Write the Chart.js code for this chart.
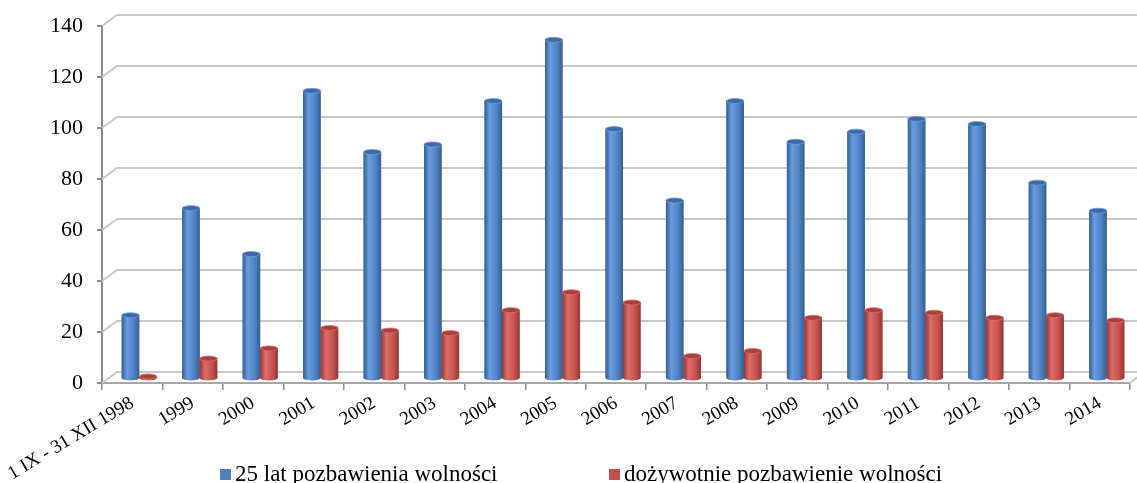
<!DOCTYPE html>
<html>
<head>
<meta charset="utf-8">
<script src="https://cdn.jsdelivr.net/npm/chart.js@4/dist/chart.umd.min.js"></script>
<style>
    html, body { margin: 0; padding: 0; background: #fff; }
</style>
</head>
<body>
<canvas id="chart" width="1137" height="483"></canvas>
<script>
const categories = ['1 IX - 31 XII 1998', '1999', '2000', '2001', '2002', '2003', '2004', '2005', '2006',
    '2007', '2008', '2009', '2010', '2011', '2012', '2013', '2014'];
const years25 = [25, 67, 49, 113, 89, 92, 109, 133, 98, 70, 109, 93, 97, 102, 100, 77, 66];
const lifeSentence = [1, 8, 12, 20, 19, 18, 27, 34, 30, 9, 11, 24, 27, 26, 24, 25, 23];
const seriesLabels = ['25 lat pozbawienia wolności', 'dożywotnie pozbawienie wolności'];
const yMax = 140;
const yStep = 20;

const seriesColors = ['#4f81bd', '#c0504d'];
// dark edge, highlight, mid, top cap
const shades = [
    ['#345f94', '#6b9be0', '#4f82c2', '#3d6aa6'],
    ['#943633', '#de6c68', '#c4524f', '#a9403d'],
];
const FONT = '"Liberation Serif", "DejaVu Serif", serif';
const depth = {dx: 15, dy: 11, barDx: 7, barDy: -4};

const ctx = document.getElementById('chart');

const wallsPlugin = {
    id: 'walls',
    beforeDatasetsDraw(chart) {
        const c = chart.ctx;
        const area = chart.chartArea;
        const y = chart.scales.y;
        c.save();
        c.strokeStyle = '#c8c8c8';
        c.lineWidth = 2;
        for (let v = 0; v <= yMax; v += yStep) {
            const yf = Math.round(y.getPixelForValue(v));
            c.beginPath();
            c.moveTo(area.left, yf);
            c.lineTo(area.left + depth.dx, yf - depth.dy);
            c.lineTo(chart.width, yf - depth.dy);
            c.stroke();
        }
        // right end of the floor
        c.beginPath();
        c.moveTo(area.right, area.bottom);
        c.lineTo(area.right + 8, area.bottom - 6);
        c.stroke();
        c.restore();

        c.save();
        c.translate(depth.barDx, depth.barDy);
    },
    afterDatasetsDraw(chart) {
        const c = chart.ctx;
        chart.data.datasets.forEach((ds, i) => {
            const meta = chart.getDatasetMeta(i);
            const sh = shades[i];
            meta.data.forEach((bar) => {
                const w = bar.width;
                const left = bar.x - w / 2;
                const top = bar.y;
                const base = bar.base;
                const g = c.createLinearGradient(left, 0, left + w, 0);
                g.addColorStop(0, sh[0]);
                g.addColorStop(0.3, sh[1]);
                g.addColorStop(0.7, sh[2]);
                g.addColorStop(1, sh[0]);
                c.fillStyle = g;
                c.fillRect(left, top, w, base - top);
                c.beginPath();
                c.ellipse(bar.x, base, w / 2, 2.5, 0, 0, Math.PI * 2);
                c.fill();
                c.beginPath();
                c.ellipse(bar.x, top, w / 2, 2.5, 0, 0, Math.PI * 2);
                c.fillStyle = sh[3];
                c.fill();
                c.strokeStyle = sh[1];
                c.lineWidth = 0.8;
                c.stroke();
            });
        });
        c.restore();
    },
    afterDraw(chart) {
        const c = chart.ctx;
        const pos = [220, 609];
        c.save();
        c.font = '23px ' + FONT;
        c.textBaseline = 'middle';
        chart.data.datasets.forEach((ds, i) => {
            c.fillStyle = seriesColors[i];
            c.fillRect(pos[i], 469, 11, 11);
            c.fillStyle = '#000';
            c.fillText(ds.label, pos[i] + 15, 475);
        });
        c.restore();
    }
};

let mainChart = new Chart(ctx, {
    type: 'bar',
    data: {
        labels: categories,
        datasets: [
            {label: seriesLabels[0], data: years25, backgroundColor: seriesColors[0]},
            {label: seriesLabels[1], data: lifeSentence, backgroundColor: seriesColors[1]},
        ],
    },
    options: {
        responsive: false,
        animation: false,
        layout: {padding: {top: 26, right: 7, left: 0, bottom: 0}},
        datasets: {
            bar: {categoryPercentage: 0.58, barPercentage: 1, clip: false},
        },
        plugins: {
            legend: {display: false},
            tooltip: {enabled: false},
        },
        scales: {
            x: {
                grid: {drawOnChartArea: false, offset: true, tickLength: 7, color: '#8c8c8c', lineWidth: 1.5},
                border: {color: '#a6a6a6', width: 2},
                ticks: {
                    font: {family: FONT, size: 19},
                    color: '#000',
                    minRotation: 31,
                    maxRotation: 31,
                    autoSkip: false,
                    padding: 2,
                },
                afterFit(scale) {
                    scale.height = 100;
                    scale.paddingLeft = 0;
                    scale.paddingRight = 0;
                },
            },
            y: {
                min: 0,
                max: yMax,
                grid: {drawOnChartArea: false, tickLength: 5, color: '#8c8c8c', lineWidth: 2},
                border: {color: '#8c8c8c', width: 2},
                ticks: {
                    stepSize: yStep,
                    font: {family: FONT, size: 22},
                    color: '#000',
                    padding: 14,
                },
                afterFit(scale) {
                    scale.width = 102;
                    scale.paddingTop = 0;
                    scale.paddingBottom = 0;
                },
            },
        },
    },
    plugins: [wallsPlugin],
});
</script>
</body>
</html>
